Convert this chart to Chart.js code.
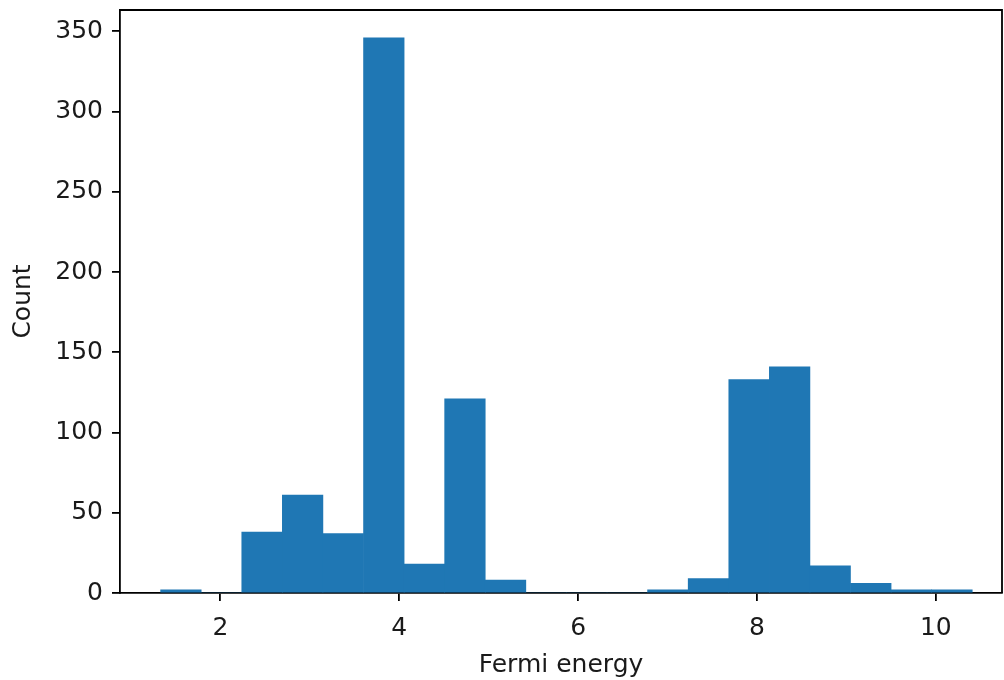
<!DOCTYPE html>
<html>
<head>
<meta charset="utf-8">
<script src="https://cdn.jsdelivr.net/npm/chart.js@4/dist/chart.umd.min.js"></script>
<style>
  html, body { margin: 0; padding: 0; background: #fff; }
  #wrap { width: 1004px; height: 680px; }
</style>
</head>
<body>
<div id="wrap"><canvas id="hist"></canvas></div>
<script>
// histogram bins
const binEdges = [1.332, 1.786, 2.240, 2.693, 3.147, 3.601, 4.055, 4.508, 4.962, 5.416,
                  5.870, 6.324, 6.777, 7.231, 7.685, 8.139, 8.592, 9.046, 9.500, 9.954, 10.407];
const counts = [2, 0, 38, 61, 37, 346, 18, 121, 8, 0,
                0, 0, 2, 9, 133, 141, 17, 6, 2, 2];
const xTicks = [2, 4, 6, 8, 10];
const yTicks = [0, 50, 100, 150, 200, 250, 300, 350];

const points = counts.map((c, i) => ({ x: (binEdges[i] + binEdges[i + 1]) / 2, y: c }));

const font = { family: 'DejaVu Sans', size: 25 };
const ink = '#1a1a1a';

// top and right spines
const frame = {
  id: 'frame',
  afterDraw(chart) {
    const { ctx, chartArea: a } = chart;
    ctx.save();
    ctx.strokeStyle = '#000';
    ctx.lineWidth = 1.8;
    ctx.beginPath();
    ctx.moveTo(a.left, a.top);
    ctx.lineTo(a.right, a.top);
    ctx.lineTo(a.right, a.bottom);
    ctx.stroke();
    ctx.restore();
  }
};

new Chart(document.getElementById('hist'), {
  type: 'bar',
  data: {
    datasets: [{
      data: points,
      backgroundColor: '#1f77b4',
      borderWidth: 0,
      barPercentage: 1,
      categoryPercentage: 1
    }]
  },
  options: {
    responsive: true,
    maintainAspectRatio: false,
    animation: false,
    layout: { padding: { top: 10, right: 2, left: 0, bottom: 0 } },
    plugins: { legend: { display: false }, tooltip: { enabled: false } },
    scales: {
      x: {
        type: 'linear',
        min: 0.878,
        max: 10.74,
        offset: false,
        afterBuildTicks: s => { s.ticks = xTicks.map(v => ({ value: v })); },
        afterFit: s => { s.height = 87; s.paddingLeft = 0; s.paddingRight = 0; },
        grid: { offset: false, drawOnChartArea: false, tickLength: 8, color: '#000', lineWidth: 1.8 },
        border: { display: true, color: '#000', width: 1.8 },
        ticks: { font, color: ink, padding: 12, maxRotation: 0 },
        title: { display: true, text: 'Fermi energy', font, color: ink, padding: { top: 0, bottom: 0 } }
      },
      y: {
        min: 0,
        max: 363.3,
        afterBuildTicks: s => { s.ticks = yTicks.map(v => ({ value: v })); },
        afterFit: s => { s.width = 120; s.paddingTop = 0; s.paddingBottom = 0; },
        grid: { drawOnChartArea: false, tickLength: 8, color: '#000', lineWidth: 1.8 },
        border: { display: true, color: '#000', width: 1.8 },
        ticks: { font, color: ink, padding: 9 },
        title: { display: true, text: 'Count', font, color: ink, padding: { top: 8, bottom: 0 } }
      }
    }
  },
  plugins: [frame]
});
</script>
</body>
</html>
